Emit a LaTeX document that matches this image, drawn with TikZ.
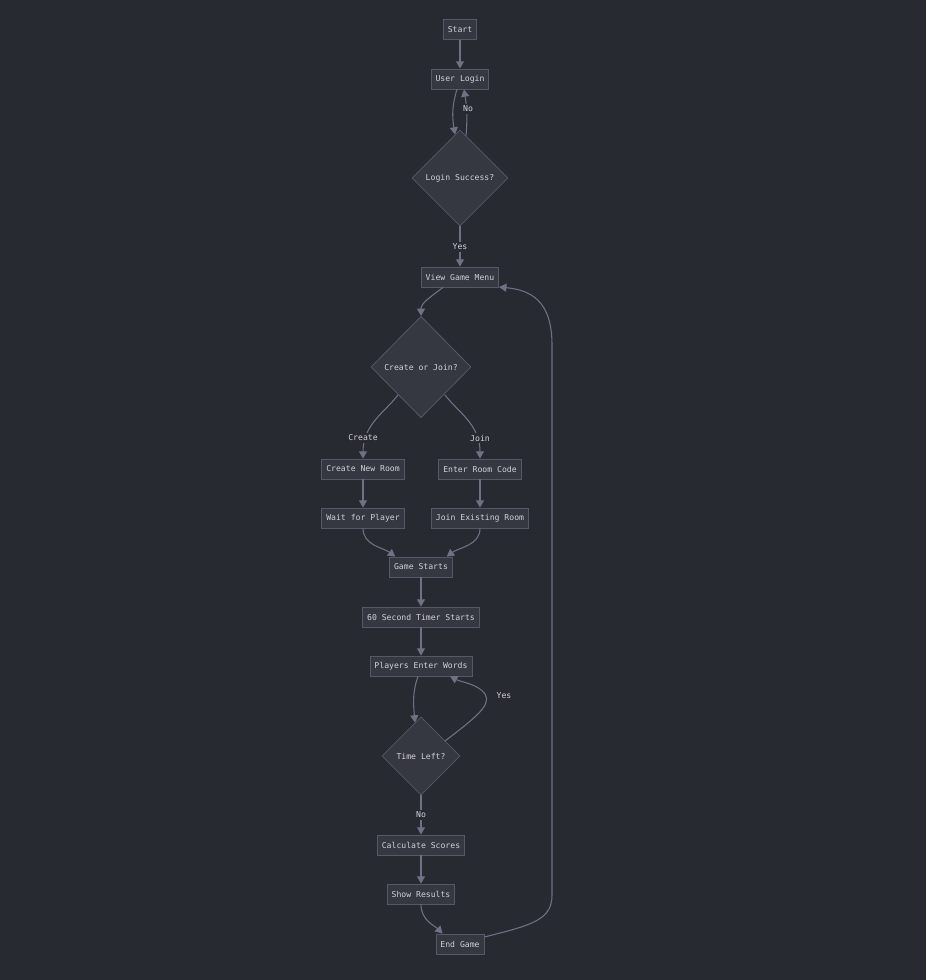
\documentclass[tikz,border=0pt]{standalone}
\usepackage{fontspec}
\setmonofont{DejaVu Sans Mono}
\usetikzlibrary{shapes.geometric,arrows.meta,calc}
\definecolor{bgc}{HTML}{282A32}
\definecolor{nodefill}{HTML}{353741}
\definecolor{nodeline}{HTML}{555866}
\definecolor{edgec}{HTML}{6E7284}
\definecolor{txt}{HTML}{D2D3D8}
\begin{document}
\begin{tikzpicture}[x=0.75pt,y=-0.75pt,
  font=\ttfamily\fontsize{6.1}{7}\selectfont,
  box/.style={draw=nodeline,fill=nodefill,text=txt,line width=0.6pt,minimum height=15pt,inner xsep=3.3pt,inner ysep=0pt},
  dec/.style={draw=nodeline,fill=nodefill,text=txt,line width=0.6pt,shape=diamond,inner sep=0pt},
  edge/.style={draw=edgec,line width=0.8pt,-{Triangle[length=5.5pt,width=6pt]}},
  lbl/.style={fill=bgc,text=txt,inner sep=1.2pt}]
\fill[bgc] (0,0) rectangle (926,980);
\useasboundingbox (0,0) rectangle (926,980);
% nodes
\node[box] (start) at (460,29.5) {Start};
\node[box] (ul) at (460,79) {User Login};
\node[dec,minimum width=72pt,minimum height=72pt] (ls) at (460,178) {Login Success?};
\node[box] (vgm) at (460,277) {View Game Menu};
\node[dec,minimum width=75pt,minimum height=76pt] (cj) at (421,367) {Create or Join?};
\node[box] (cnr) at (363,469) {Create New Room};
\node[box] (erc) at (480,469) {Enter Room Code};
\node[box] (wfp) at (363,518) {Wait for Player};
\node[box] (jer) at (480,518) {Join Existing Room};
\node[box] (gs) at (421,567) {Game Starts};
\node[box] (tim) at (421,617) {60 Second Timer Starts};
\node[box] (pew) at (421,666) {Players Enter Words};
\node[dec,minimum width=58.5pt,minimum height=58.5pt] (tl) at (421,756) {Time Left?};
\node[box] (cs) at (421,845) {Calculate Scores};
\node[box] (sr) at (421,894) {Show Results};
\node[box] (eg) at (460,944) {End Game};
% edges
\draw[edge] (start) -- (ul);
\draw[edge] ($(ul.south)+(-3,0)$) .. controls ($(ul.south)+(-8,16)$) and ($(ls.north)+(-8,-14)$) .. ($(ls.north)+(-5,5)$);
\draw[edge] ($(ls.north)+(6,6)$) .. controls ($(ls.north)+(8,-14)$) and ($(ul.south)+(6,12)$) .. ($(ul.south)+(4,0)$);
\node[lbl] (lno) at (468,109) {No};
\draw[edge] (ls.south) -- (vgm.north);
\node[lbl] (lyes) at (460,247) {Yes};
\draw[edge] ($(vgm.south)+(-17,0)$) .. controls ($(vgm.south)+(-30,10)$) and ($(cj.north)+(0,-13)$) .. (cj.north);
\draw[edge] ($(cj.center)+(-23,28)$) .. controls ($(cj.center)+(-36,45)$) and ($(cnr.north)+(0,-34)$) .. (cnr.north);
\draw[edge] ($(cj.center)+(24,28)$) .. controls ($(cj.center)+(37,45)$) and ($(erc.north)+(0,-34)$) .. (erc.north);
\node[lbl] (lcreate) at (363,438) {Create};
\node[lbl] (ljoin) at (480,438) {Join};
\draw[edge] (cnr) -- (wfp);
\draw[edge] (erc) -- (jer);
\draw[edge] (wfp.south) .. controls ($(wfp.south)+(0,17)$) and ($(gs.north west)+(-6,-9)$) .. ($(gs.north west)+(6,0)$);
\draw[edge] (jer.south) .. controls ($(jer.south)+(0,17)$) and ($(gs.north east)+(6,-9)$) .. ($(gs.north east)+(-6,0)$);
\draw[edge] (gs) -- (tim);
\draw[edge] (tim) -- (pew);
\draw[edge] ($(pew.south)+(-3,0)$) .. controls ($(pew.south)+(-8,14)$) and ($(tl.north)+(-8,-16)$) .. ($(tl.north)+(-6,6)$);
\draw[edge] ($(tl.center)+(24,-15)$) .. controls ($(tl.center)+(54,-38)$) and ($(tl.center)+(71,-51)$) .. ($(tl.center)+(64,-62)$) .. controls ($(tl.center)+(57,-72)$) and ($(pew.south)+(41,6)$) .. ($(pew.south)+(29,0)$);
\node[lbl] (lyes2) at (504,696) {Yes};
\draw[edge] (tl.south) -- (cs.north);
\node[lbl] (lno2) at (421,815) {No};
\draw[edge] (cs) -- (sr);
\draw[edge] (sr.south) .. controls ($(sr.south)+(0,16)$) and ($(eg.north west)+(-1,-8)$) .. ($(eg.north west)+(7,0)$);
\draw[edge] ($(eg.east)+(0,-7)$) .. controls (532,925) and (552,920) .. (552,895) -- (552,345) .. controls (552,300) and (530,290) .. (vgm.east |- {(0,287)}) ;
\end{tikzpicture}
\end{document}
